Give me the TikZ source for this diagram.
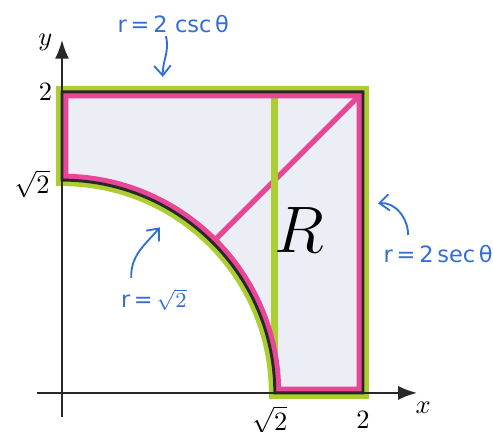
\documentclass[tikz,border=0pt]{standalone}
\usepackage{fontspec}
\usepackage{amsmath}
\usepackage{xcolor}
\usepackage{tikz}
\usetikzlibrary{arrows.meta,positioning}
\newfontfamily\handfont{DejaVu Sans}
\definecolor{hlgreen}{RGB}{172,206,48}
\definecolor{hlpink}{RGB}{232,70,150}
\definecolor{rfill}{RGB}{236,238,246}
\definecolor{pen}{RGB}{50,110,215}
\definecolor{ink}{RGB}{40,40,40}

\begin{document}
\begin{tikzpicture}[x=2cm,y=2cm,
  lbl/.style={font=\fontsize{10}{12}\selectfont,inner sep=1pt},
  hand/.style={text=pen,font=\handfont\fontsize{8.5}{10}\selectfont,inner sep=1pt},
  harr/.style={pen,line width=0.7pt,-{Straight Barb[length=1.3mm,width=2.2mm]}},
  axis/.style={ink,line width=0.8pt}]
  \useasboundingbox (-0.412,-0.259) rectangle (2.864,2.611);
  % region R
  \def\rgn{(0,1.41421) -- (0,2) -- (2,2) -- (2,0) -- (1.41421,0) arc[start angle=0,end angle=90,radius=1.41421] -- cycle}
  \draw[hlgreen,line width=0.16cm] \rgn;
  \fill[rfill] \rgn;
  \draw[hlpink,line width=0.07cm] (1,1) -- (2,2);
  \draw[hlgreen,line width=0.09cm] (1.41421,0) -- (1.41421,2);
  \begin{scope}
    \clip \rgn;
    \draw[hlpink,line width=0.17cm] \rgn;
  \end{scope}
  \draw[ink,line width=1.1pt] \rgn;
  % axes
  \draw[axis,-{Latex[length=2.5mm]}] (-0.166,0) -- (2.359,0);
  \draw[axis,-{Latex[length=2.5mm]}] (0,-0.159) -- (0,2.346);
  \node[lbl] (xlab) at (2.40,-0.10) {$x$};
  \node[lbl] (ylab) at (-0.11,2.33) {$y$};
  \node[lbl] (t2y) at (-0.11,2.0) {$2$};
  \node[lbl] (ts2y) at (-0.20,1.39) {$\sqrt{2}$};
  \node[lbl] (ts2x) at (1.38,-0.18) {$\sqrt{2}$};
  \node[lbl] (t2x) at (2.0,-0.18) {$2$};
  \node[font=\fontsize{24}{28}\selectfont] (R) at (1.58,1.08) {$R$};
  % handwritten notes
  \node[hand] (csc) at (0.74,2.45) {r\,=\,2\,\,csc\,θ};
  \node[hand] (sec) at (2.50,0.92) {r\,=\,2\,sec\,θ};
  \node[hand] (rs2) at (0.61,0.62) {r\,=\,$\sqrt{2}$};
  \coordinate (csctip) at (0.67,2.10);
  \coordinate (sectip) at (2.10,1.26);
  \coordinate (rs2tip) at (0.65,1.10);
  \draw[harr] ([xshift=-1mm]csc.south) to[out=-75,in=92] (csctip);
  \draw[harr] ([xshift=-4mm,yshift=1mm]sec.north) to[out=90,in=5] (sectip);
  \draw[harr] ([xshift=-3mm,yshift=1mm]rs2.north) to[out=92,in=230] (rs2tip);
\end{tikzpicture}
\end{document}
